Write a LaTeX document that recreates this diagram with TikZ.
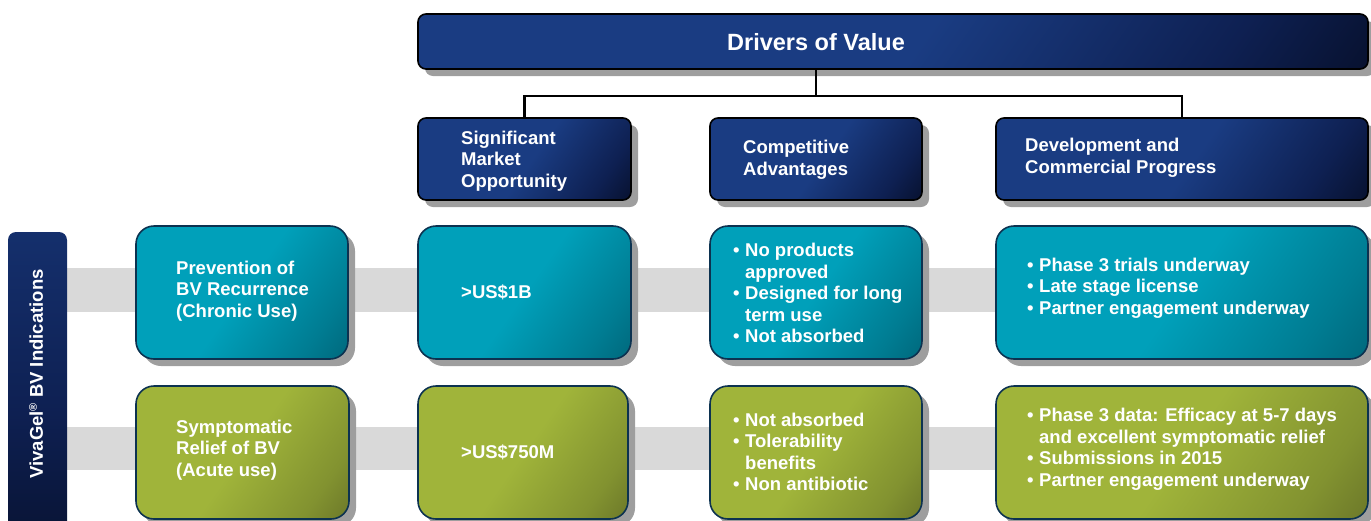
\documentclass[tikz,border=0pt]{standalone}
\usepackage{fontspec}
\setmainfont{Liberation Sans}
\usetikzlibrary{shadows}
\definecolor{navyA}{RGB}{26,60,130}
\definecolor{navyB}{RGB}{14,32,82}
\definecolor{navyC}{RGB}{2,5,18}
\definecolor{tealA}{RGB}{0,160,186}
\definecolor{tealB}{RGB}{0,124,146}
\definecolor{tealC}{RGB}{0,84,102}
\definecolor{oliveA}{RGB}{160,180,58}
\definecolor{oliveB}{RGB}{130,146,48}
\definecolor{oliveC}{RGB}{86,94,34}
\definecolor{shgray}{RGB}{158,158,158}
\definecolor{bandgray}{RGB}{217,217,217}
\definecolor{edgeblue}{RGB}{12,50,80}
\pgfdeclarehorizontalshading{navysh}{100bp}{color(0bp)=(navyA); color(52bp)=(navyA); color(74bp)=(navyB); color(94bp)=(navyC); color(100bp)=(navyC)}
\pgfdeclarehorizontalshading{tealsh}{100bp}{color(0bp)=(tealA); color(50bp)=(tealA); color(74bp)=(tealB); color(96bp)=(tealC); color(100bp)=(tealC)}
\pgfdeclarehorizontalshading{olivesh}{100bp}{color(0bp)=(oliveA); color(50bp)=(oliveA); color(74bp)=(oliveB); color(96bp)=(oliveC); color(100bp)=(oliveC)}
\pgfdeclareverticalshading{barsh}{100bp}{color(0bp)=(navyC); color(45bp)=(navyB); color(100bp)=(navyA)}
\newcommand\mybul{\makebox[12pt][l]{•}}
\newcommand\myind{\hspace*{12pt}}
\begin{document}
\begin{tikzpicture}[x=1pt,y=-1pt,
  shadowbox/.style={drop shadow={shadow xshift=7pt,shadow yshift=-7pt,fill=shgray,opacity=1}},
  base/.style={inner sep=0pt,outer sep=0pt,line width=1.6pt,shadowbox},
  navybox/.style={base,draw=black,rounded corners=8pt,shading=navysh,shading angle=-35},
  tealbox/.style={base,draw=edgeblue,rounded corners=18pt,shading=tealsh,shading angle=-35},
  olivebox/.style={base,draw=edgeblue,rounded corners=18pt,shading=olivesh,shading angle=-35},
  txt/.style={text=white,font=\fontsize{18.5}{21.5}\selectfont\bfseries,align=left,inner sep=0pt,anchor=west},
  conn/.style={draw=black,line width=2.2pt},
  band/.style={fill=bandgray,draw=none}]
\useasboundingbox (0,0) rectangle (1371,520);
% bands
\fill[band] (67,268) rectangle (1371,312);
\fill[band] (67,427) rectangle (1371,470);
% side bar
\shade[shading=barsh,rounded corners=8pt] (8,232) rectangle (67,535);
\node[txt,anchor=center,rotate=90] (side) at (36,374) {VivaGel{\fontsize{11}{11}\selectfont\raisebox{6pt}{®}} BV Indications};
% top
\node[navybox,minimum width=950pt,minimum height=55pt] (top) at (893,41.5) {};
\node[txt,anchor=center,font=\fontsize{23.5}{27}\selectfont\bfseries] (ttop) at (816,42) {Drivers of Value};
% headers
\node[navybox,minimum width=213pt,minimum height=82pt] (smo) at (524.5,159) {};
\node[navybox,minimum width=212pt,minimum height=82pt] (ca) at (816,159) {};
\node[navybox,minimum width=372pt,minimum height=82pt] (dev) at (1182,159) {};
\coordinate (hl) at (0,96);
\draw[conn] (ca.north |- top.south) -- (ca.north |- hl);
\draw[conn] (smo.north) -- (smo.north |- hl) -- (dev.north |- hl) -- (dev.north);
\node[txt] (tsmo) at (461,161) {Significant\\Market\\Opportunity};
\node[txt] (tca) at (743,160) {Competitive\\Advantages};
\node[txt] (tdev) at (1025,158) {Development and\\Commercial Progress};
% row 2
\node[tealbox,minimum width=212pt,minimum height=133pt] (r2a) at (242,292.5) {};
\node[tealbox,minimum width=213pt,minimum height=133pt] (r2b) at (524.5,292.5) {};
\node[tealbox,minimum width=212pt,minimum height=133pt] (r2c) at (816,292.5) {};
\node[tealbox,minimum width=372pt,minimum height=133pt] (r2d) at (1182,292.5) {};
\node[txt] (t2a) at (176,291) {Prevention of\\BV Recurrence\\(Chronic Use)};
\node[txt] (t2b) at (461,292) {>US\$1B};
\node[txt] (t2c) at (733,293) {\mybul No products\\\myind approved\\\mybul Designed for long\\\myind term use\\\mybul Not absorbed};
\node[txt] (t2d) at (1027,288) {\mybul Phase 3 trials underway\\\mybul Late stage license\\\mybul Partner engagement underway};
% row 3
\node[olivebox,minimum width=213pt,minimum height=133pt] (r3a) at (242.5,452.5) {};
\node[olivebox,minimum width=210pt,minimum height=133pt] (r3b) at (523,452.5) {};
\node[olivebox,minimum width=212pt,minimum height=133pt] (r3c) at (816,452.5) {};
\node[olivebox,minimum width=372pt,minimum height=133pt] (r3d) at (1182,452.5) {};
\node[txt] (t3a) at (176,450) {Symptomatic\\Relief of BV\\(Acute use)};
\node[txt] (t3b) at (461,452) {>US\$750M};
\node[txt] (t3c) at (733,452) {\mybul Not absorbed\\\mybul Tolerability\\\myind benefits\\\mybul Non antibiotic};
\node[txt] (t3d) at (1027,449) {\mybul Phase 3 data: Efficacy at 5-7 days\\\myind and excellent symptomatic relief\\\mybul Submissions in 2015\\\mybul Partner engagement underway};
\end{tikzpicture}
\end{document}
